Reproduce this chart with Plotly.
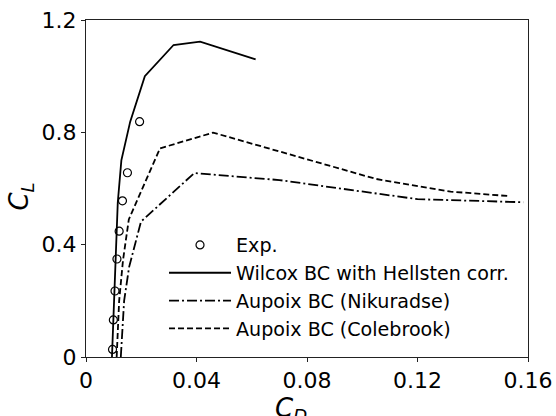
import plotly.graph_objects as go

# Experimental data
exp_cd = [0.0096, 0.0099, 0.0105, 0.0112, 0.0120, 0.0132, 0.0150, 0.0194]
exp_cl = [0.027, 0.132, 0.235, 0.349, 0.448, 0.556, 0.656, 0.838]

# Wilcox BC with Hellsten corr.
wil_cd = [0.0094, 0.0104, 0.0115, 0.0128, 0.0160, 0.0213, 0.0317, 0.0413, 0.0614]
wil_cl = [0.0, 0.30, 0.55, 0.70, 0.838, 1.0, 1.111, 1.123, 1.060]

# Aupoix BC (Nikuradse)
nik_cd = [0.0126, 0.0138, 0.0156, 0.0199, 0.0392, 0.0700, 0.1200, 0.1583]
nik_cl = [0.0, 0.20, 0.32, 0.482, 0.655, 0.630, 0.562, 0.551]

# Aupoix BC (Colebrook)
col_cd = [0.0111, 0.0120, 0.0134, 0.0155, 0.0268, 0.0460, 0.1050, 0.1320, 0.1530]
col_cl = [0.0, 0.20, 0.345, 0.49, 0.743, 0.799, 0.634, 0.589, 0.573]

x_ticks = [0, 0.04, 0.08, 0.12, 0.16]
x_tick_text = ["0", "0.04", "0.08", "0.12", "0.16"]
y_ticks = [0, 0.4, 0.8, 1.2]
y_tick_text = ["0", "0.4", "0.8", "1.2"]

x_title = "<i>C<sub>D</sub></i>"
y_title = "<i>C<sub>L</sub></i>"

FONT = "DejaVu Sans"

fig = go.Figure()
fig.add_trace(go.Scatter(
    x=exp_cd, y=exp_cl, mode="markers", name="Exp.",
    marker=dict(symbol="circle-open", size=8, color="black", line=dict(width=1.2, color="black")),
))
fig.add_trace(go.Scatter(
    x=wil_cd, y=wil_cl, mode="lines", name="Wilcox BC with Hellsten corr.",
    line=dict(color="black", width=1.8),
))
fig.add_trace(go.Scatter(
    x=nik_cd, y=nik_cl, mode="lines", name="Aupoix BC (Nikuradse)",
    line=dict(color="black", width=1.8, dash="10px,3px,2px,3px"),
))
fig.add_trace(go.Scatter(
    x=col_cd, y=col_cl, mode="lines", name="Aupoix BC (Colebrook)",
    line=dict(color="black", width=1.8, dash="6px,3px"),
))

axis_common = dict(
    showgrid=False, zeroline=False, showline=True, linecolor="#222", linewidth=1,
    mirror=True, ticks="outside", ticklen=4, tickcolor="#222", tickwidth=1,
    tickfont=dict(family=FONT, size=22, color="black"), automargin=False,
    ticklabeloverflow="allow",
)

fig.update_layout(
    width=556, height=416,
    margin=dict(l=86, r=28, t=20, b=59),
    paper_bgcolor="white", plot_bgcolor="white",
    font=dict(family=FONT, color="black"),
    showlegend=True,
    legend=dict(
        x=0.1765, y=0.3887, xanchor="left", yanchor="top",
        bgcolor="rgba(0,0,0,0)", borderwidth=0,
        font=dict(family=FONT, size=19.1, color="black"),
        tracegroupgap=0, itemwidth=62,
    ),
    xaxis=dict(range=[0, 0.16], tickvals=x_ticks, ticktext=x_tick_text, **axis_common),
    yaxis=dict(range=[0, 1.2], tickvals=y_ticks, ticktext=y_tick_text, **axis_common),
    annotations=[
        dict(text=x_title, xref="paper", yref="paper", x=(273 - 86) / 442, y=-0.157,
             xanchor="left", yanchor="middle", showarrow=False,
             font=dict(family=FONT, size=26, color="black")),
        dict(text=y_title, xref="paper", yref="paper", x=(21 - 86) / 442, y=0.476,
             xanchor="center", yanchor="middle", textangle=-90, showarrow=False,
             font=dict(family=FONT, size=26, color="black")),
    ],
)

# remove the default 8px page margin so the 556x416 figure fills the window
fig.write_html("out.html", config={"displayModeBar": False},
               post_script="document.body.style.margin='0';")
